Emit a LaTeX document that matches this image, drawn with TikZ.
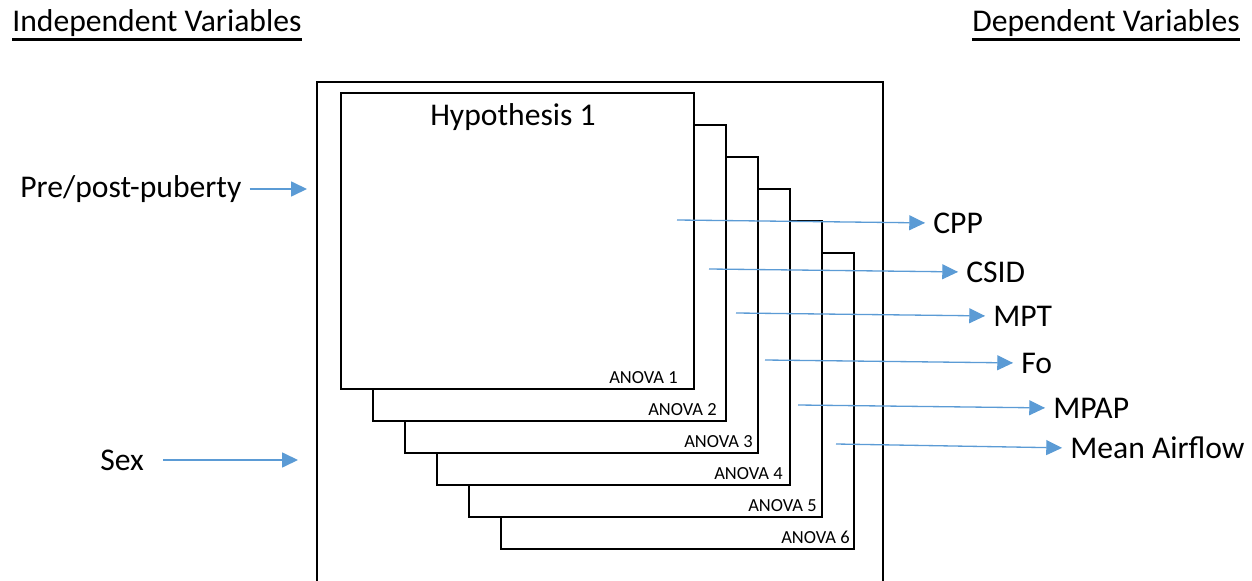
\documentclass[tikz,border=0pt]{standalone}
\usepackage{fontspec}
\setmainfont{Carlito}
\usetikzlibrary{arrows.meta}
\definecolor{arrowblue}{HTML}{5B9BD5}

\begin{document}
\begin{tikzpicture}[x=0.02cm, y=-0.02cm, >={Triangle[length=9pt,width=8.5pt]},
  varrow/.style={->, arrowblue, line width=0.75pt},
  vartext/.style={inner sep=0pt, font=\fontsize{18}{21}\selectfont},
  anova/.style={inner sep=0pt, anchor=base east, font=\fontsize{10.5}{12}\selectfont},
  uline/.style={line width=1.4pt},
  frame/.style={line width=1.1pt},
  layer/.style={line width=1.1pt, fill=white}]
  \useasboundingbox (0,0) rectangle (1252,581);

  % Headings
  \node[vartext, anchor=base west] (indep) at (12,32) {Independent Variables};
  \draw[uline] ([yshift=-1.2pt]indep.south west) -- ([yshift=-1.2pt]indep.south east);
  \node[vartext, anchor=base east] (dep) at (1240,32) {Dependent Variables};
  \draw[uline] ([yshift=-1.2pt]dep.south west) -- ([yshift=-1.2pt]dep.south east);

  % Outer frame (runs off the bottom)
  \draw[frame] (317,581) -- (317,82) -- (883,82) -- (883,581);

  % ANOVA layers, back to front
  \foreach \k/\tx in {5/850, 4/817, 3/783, 2/753, 1/717, 0/678} {
    \pgfmathtruncatemacro{\n}{\k+1}
    \filldraw[layer] (341+32*\k, 93+32*\k) rectangle (694+32*\k, 389+32*\k);
    \node[anova] (anova\n) at (\tx, 383+32*\k) {ANOVA \n};
  }

  % Hypothesis title
  \node[vartext, anchor=base] (hyp) at (513,126) {Hypothesis 1};

  % Independent variables
  \node[vartext, anchor=west] (puberty) at (20,189) {Pre/post-puberty};
  \coordinate (pubin) at (307,189);
  \draw[varrow, shorten <=4.5pt] (puberty.east) -- (pubin);

  \node[vartext, anchor=west] (sex) at (100,460) {Sex};
  \coordinate (sexin) at (298,460);
  \draw[varrow, shorten <=10.8pt] (sex.east) -- (sexin);

  % Dependent variables
  \foreach \nm/\sx/\sy/\lx/\ly/\txt in {cpp/677/220/933/223/CPP, csid/709/269/966/272/CSID,
      mpt/736/313/993/316/MPT, fo/765/360/1021/363/Fo, mpap/798/405/1053/408/MPAP,
      air/836/444/1070/448/Mean Airflow} {
    \coordinate (src\nm) at (\sx,\sy);
    \node[vartext, anchor=west] (\nm) at (\lx,\ly) {\txt};
    \draw[varrow, shorten >=4.5pt] (src\nm) -- (\nm.west);
  }
\end{tikzpicture}
\end{document}
